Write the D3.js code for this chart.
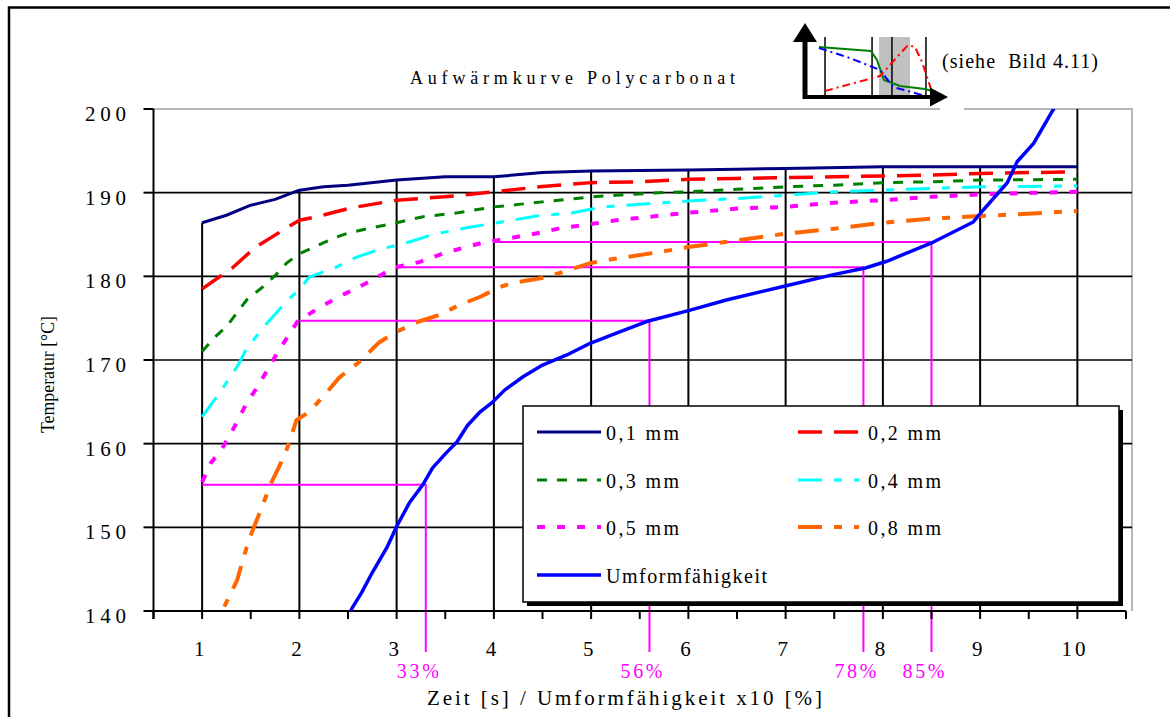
<!DOCTYPE html>
<html><head><meta charset="utf-8">
<script src="https://cdn.jsdelivr.net/npm/d3@7"></script>
<style>
body{margin:0;background:#fff}
svg{display:block}
text{font-family:"Liberation Serif","Times New Roman",serif;fill:#000}
</style>
</head><body>
<svg id="c" width="1170" height="717"></svg>
<script>
// ---------------- data ----------------
const chartTitle = "Aufwärmkurve Polycarbonat";
const xTitle = "Zeit [s] / Umformfähigkeit x10 [%]";
const yTitle = "Temperatur [°C]";
const insetNote = "(siehe  Bild 4.11)";
const xTickLabels = [1, 2, 3, 4, 5, 6, 7, 8, 9, 10];
const yTickValues = [140, 150, 160, 170, 180, 190, 200];
const seriesNames = ["0,1 mm", "0,2 mm", "0,3 mm", "0,4 mm", "0,5 mm", "0,8 mm", "Umformfähigkeit"];

const x01 = [1, 1.25, 1.5, 1.75, 2, 2.25, 2.5, 3, 3.5, 4, 4.5, 5, 6, 6.5, 7, 8, 9, 10];
const t01 = [186.4, 187.3, 188.5, 189.2, 190.3, 190.7, 190.9, 191.5, 191.9, 191.9, 192.4, 192.6, 192.7, 192.8, 192.9, 193.1, 193.1, 193.1];

const x02 = [1, 1.31, 1.54, 1.87, 2, 2.17, 2.54, 3, 3.49, 4, 4.47, 5, 5.5, 6, 6.5, 7, 7.5, 8, 8.5, 9, 10];
const t02 = [178.5, 181, 183.4, 185.8, 186.7, 187.1, 188.2, 189.1, 189.5, 190.1, 190.7, 191.2, 191.3, 191.6, 191.7, 191.8, 191.9, 192, 192.1, 192.3, 192.5];

const x03 = [1, 1.12, 1.25, 1.46, 1.62, 1.76, 1.87, 2, 2.17, 2.36, 2.51, 2.74, 3, 3.26, 3.63, 4, 4.26, 4.5, 4.75, 5, 5.7, 6, 6.5, 7, 7.5, 8, 8.5, 9, 10];
const t03 = [171, 172.6, 174, 177.2, 178.7, 180.2, 181.6, 182.7, 183.6, 184.6, 185.2, 185.8, 186.4, 187.1, 187.6, 188.3, 188.6, 188.9, 189.2, 189.5, 190, 190.1, 190.4, 190.7, 190.9, 191.2, 191.3, 191.5, 191.6];

const x04 = [1, 1.2, 1.38, 1.45, 1.62, 1.76, 1.9, 2, 2.1, 2.38, 2.59, 2.82, 3.13, 3.37, 3.72, 4.13, 4.44, 4.81, 5.12, 5.74, 6, 6.5, 7, 7.5, 8, 8.5, 9, 10];
const t04 = [163.2, 166.4, 169.6, 171.2, 173.8, 175.6, 177.4, 178.4, 179.9, 181.1, 182.3, 183.2, 184.1, 185, 185.8, 186.6, 187.2, 187.6, 188.3, 188.8, 189, 189.3, 189.7, 190.1, 190.3, 190.5, 190.7, 190.8];

const x05 = [1, 1.09, 1.2, 1.3, 1.38, 1.46, 1.57, 1.67, 1.76, 1.87, 1.98, 2.17, 2.38, 2.59, 2.79, 2.96, 3.23, 3.47, 3.68, 3.88, 4.23, 4.47, 4.7, 4.91, 5.26, 5.5, 6, 6.5, 7, 7.5, 8, 8.5, 9, 10];
const t05 = [155.4, 157.7, 159.3, 161.3, 163.1, 164.9, 166.8, 168.8, 170.6, 172.6, 174.6, 176, 177.4, 178.6, 179.8, 181, 181.7, 182.7, 183.4, 184, 184.7, 185.2, 185.8, 186.1, 186.7, 187, 187.6, 188.1, 188.3, 188.8, 189.1, 189.5, 189.8, 190.1];

const x08 = [1.1, 1.21, 1.36, 1.48, 1.59, 1.71, 1.79, 1.87, 1.97, 2.1, 2.28, 2.41, 2.62, 2.82, 3, 3.23, 3.44, 3.65, 3.85, 4.06, 4.19, 4.54, 5, 5.19, 5.7, 6, 6.5, 7, 7.5, 8, 8.5, 9, 10];
const t08 = [136.5, 140.1, 143.7, 148.5, 151.7, 155.3, 157.2, 159.3, 162.8, 163.8, 166.1, 167.9, 169.8, 172.1, 173.4, 174.6, 175.4, 176.6, 177.5, 178.7, 179.2, 179.9, 181.6, 182, 182.9, 183.5, 184.3, 185.1, 185.7, 186.4, 186.9, 187.2, 187.8];

const xUm = [2.4, 2.545, 2.64, 2.75, 2.905, 3, 3.13, 3.27, 3.37, 3.51, 3.62, 3.73, 3.85, 3.99, 4.11, 4.3, 4.5, 4.75, 4.99, 5.26, 5.57, 6, 6.4, 7.05, 7.49, 7.82, 8.04, 8.52, 8.93, 9.03, 9.28, 9.38, 9.55, 9.75, 10];
const tUm = [137, 140.4, 142.2, 144.6, 147.7, 150.1, 152.9, 155.1, 157.1, 158.9, 160.2, 162.2, 163.7, 165, 166.4, 168, 169.4, 170.6, 172, 173.2, 174.6, 175.9, 177.2, 179, 180.2, 181, 181.8, 184.1, 186.5, 187.9, 191.2, 193.7, 195.9, 199.9, 204];

// reference (magenta) construction lines
const refStartX = [1, 2, 3, 4];
const refY = [155.1, 174.7, 181.1, 184.1];
const refEndX = [3.3, 5.6, 7.8, 8.5];
const refLabels = ["33%", "56%", "78%", "85%"];

// inset sketch (normalised 0..100 units)
const insetGridX = [14.3, 47.9, 62.1, 86.4];
const insetBand = [52.9, 75];
const insetGreenX = [10, 47.1, 51.4, 56.4, 67.9, 85.7, 90.7];
const insetGreenY = [71.4, 65.7, 52.9, 24.3, 15.7, 11.4, 8.6];
const insetBlueX = [10, 32, 53.6, 62.9, 83.6];
const insetBlueY = [70, 55.7, 38.6, 14.3, 2.9];
const insetRedX = [14.3, 53.6, 73.6, 78.6, 83.6, 87.9, 90.7];
const insetRedY = [8.6, 30, 74.3, 71.4, 50, 24.3, 7.1];

// ---------------- build ----------------
const seriesX = [x01, x02, x03, x04, x05, x08, xUm];
const seriesT = [t01, t02, t03, t04, t05, t08, tUm];
const styles = [
  {color: "#000080", width: 3, dash: null},
  {color: "#ff0000", width: 3.5, dash: "24,12"},
  {color: "#008000", width: 3, dash: "10,10"},
  {color: "#00ffff", width: 3, dash: "24,12,8,12"},
  {color: "#ff00ff", width: 4, dash: "8,12"},
  {color: "#ff6600", width: 4, dash: "24,12,8,12"},
  {color: "#0000ff", width: 3.5, dash: null}
];
const series = seriesNames.map((n, i) => ({
  name: n, style: styles[i],
  pts: seriesX[i].map((x, j) => ({x, t: seriesT[i][j]}))
}));

const svg = d3.select("#c");
const L = 153.5, R = 1132, T = 109, B = 611;
const x = d3.scaleLinear().domain([0.5, 10.5]).range([L, 1126]);
const y = d3.scaleLinear().domain([140, 200]).range([B, T]);

// outer frame
svg.append("path").attr("d", `M9,717 V7.5 H1170`).attr("fill", "none")
  .attr("stroke", "#000").attr("stroke-width", 2.5);

// plot border (top & right, grey)
svg.append("path").attr("d", `M${L},${y(200)} H${R} V${B}`).attr("fill", "none")
  .attr("stroke", "#a0a0a0").attr("stroke-width", 1.5);

// horizontal gridlines
svg.append("g").selectAll("line").data(yTickValues.filter(v => v > 140 && v < 200)).join("line")
  .attr("x1", L).attr("x2", R).attr("y1", d => y(d)).attr("y2", d => y(d))
  .attr("stroke", "#000").attr("stroke-width", 1.6);

// drop lines from highest series at each integer x
function interp(pts, xv) {
  if (xv < pts[0].x || xv > pts[pts.length - 1].x) return null;
  for (let i = 0; i < pts.length - 1; i++) {
    const a = pts[i], b = pts[i + 1];
    if (xv >= a.x && xv <= b.x) return a.t + (b.t - a.t) * (xv - a.x) / (b.x - a.x);
  }
  return pts[pts.length - 1].t;
}
const drops = xTickLabels.map(v => {
  const vals = series.map(s => interp(s.pts, v)).filter(d => d !== null);
  return {x: v, top: Math.min(200, d3.max(vals))};
});
svg.append("g").selectAll("line").data(drops).join("line")
  .attr("x1", d => x(d.x)).attr("x2", d => x(d.x))
  .attr("y1", d => y(d.top)).attr("y2", B)
  .attr("stroke", "#000").attr("stroke-width", 2);

// magenta construction lines
const refG = svg.append("g");
refStartX.forEach((sx, i) => {
  refG.append("path")
    .attr("d", `M${x(sx)},${y(refY[i])} H${x(refEndX[i])} V${B + 41}`)
    .attr("fill", "none").attr("stroke", "#ff00ff").attr("stroke-width", 2);
  refG.append("text").attr("x", x(refEndX[i]) - 29).attr("y", B + 67)
    .attr("textLength", 42).attr("lengthAdjust", "spacing")
    .style("font-size", "20px").style("fill", "#ff00ff").text(refLabels[i]);
});

// axes
svg.append("line").attr("x1", L).attr("x2", 1126).attr("y1", B).attr("y2", B)
  .attr("stroke", "#000").attr("stroke-width", 2);
svg.append("line").attr("x1", L).attr("x2", L).attr("y1", T).attr("y2", B + 8)
  .attr("stroke", "#000").attr("stroke-width", 2);
svg.append("g").selectAll("line").data(d3.range(0.5, 10.51, 0.5)).join("line")
  .attr("x1", d => x(d)).attr("x2", d => x(d)).attr("y1", B).attr("y2", B + 8)
  .attr("stroke", "#000").attr("stroke-width", 2);
svg.append("g").selectAll("line").data(yTickValues).join("line")
  .attr("x1", L - 10).attr("x2", L).attr("y1", d => y(d)).attr("y2", d => y(d))
  .attr("stroke", "#000").attr("stroke-width", 2);

// tick labels
svg.append("g").selectAll("text").data(yTickValues).join("text")
  .attr("x", 85).attr("y", d => y(d) + 12)
  .attr("textLength", 41).attr("lengthAdjust", "spacing")
  .style("font-size", "21px").text(d => d);
svg.append("g").selectAll("text").data(xTickLabels).join("text")
  .attr("x", d => x(d) - 3).attr("y", B + 45)
  .attr("text-anchor", "middle")
  .each(function(d){ if (String(d).length > 1) d3.select(this).attr("textLength", 24).attr("lengthAdjust","spacing").attr("x", x(d) - 16).attr("text-anchor","start"); })
  .style("font-size", "21px").text(d => d);

// axis titles
svg.append("text").attr("x", 427).attr("y", 705)
  .attr("textLength", 395).attr("lengthAdjust", "spacing")
  .style("font-size", "21px").text(xTitle);
svg.append("text").attr("transform", "translate(54,433) rotate(-90)")
  .attr("textLength", 117).attr("lengthAdjust", "spacingAndGlyphs")
  .style("font-size", "18px").text(yTitle);

// chart title
svg.append("text").attr("x", 410).attr("y", 84)
  .attr("textLength", 325).attr("lengthAdjust", "spacing")
  .style("font-size", "18px").text(chartTitle);

// series
svg.append("clipPath").attr("id", "clip").append("rect")
  .attr("x", L).attr("y", T).attr("width", R - L).attr("height", B - T);
const line = d3.line().x(d => x(d.x)).y(d => y(d.t));
svg.append("g").attr("clip-path", "url(#clip)").selectAll("path").data(series).join("path")
  .attr("d", d => line(d.pts)).attr("fill", "none")
  .attr("stroke", d => d.style.color).attr("stroke-width", d => d.style.width)
  .attr("stroke-dasharray", d => d.style.dash)
  .attr("stroke-linejoin", "round");

// legend
const lg = svg.append("g");
lg.append("rect").attr("x", 527).attr("y", 410).attr("width", 596).attr("height", 196).attr("fill", "#000");
lg.append("rect").attr("x", 523).attr("y", 406).attr("width", 596).attr("height", 196)
  .attr("fill", "#fff").attr("stroke", "#000").attr("stroke-width", 1.5);
const legPos = [[0,0],[1,0],[0,1],[1,1],[0,2],[1,2],[0,3]];
const colLine = [[537, 601], [798, 859]], colText = [606, 868];
const rowY = [432, 480, 527, 575];
series.forEach((s, i) => {
  const [c, r] = legPos[i];
  lg.append("line").attr("x1", colLine[c][0]).attr("x2", colLine[c][1])
    .attr("y1", rowY[r]).attr("y2", rowY[r])
    .attr("stroke", s.style.color).attr("stroke-width", s.style.width)
    .attr("stroke-dasharray", s.style.dash);
  lg.append("text").attr("x", colText[c]).attr("y", rowY[r] + 8)
    .attr("textLength", s.name.length > 8 ? 161 : 73).attr("lengthAdjust", "spacing")
    .style("font-size", "20px").text(s.name);
});

// inset sketch
const ix = d3.scaleLinear().domain([0, 100]).range([805, 945]);
const iy = d3.scaleLinear().domain([0, 100]).range([97, 27]);
const ig = svg.append("g");
ig.append("rect").attr("x", 940).attr("y", 104).attr("width", 24).attr("height", 8).attr("fill", "#fff");
ig.append("rect").attr("x", ix(insetBand[0])).attr("y", iy(85.7))
  .attr("width", ix(insetBand[1]) - ix(insetBand[0])).attr("height", iy(0) - iy(85.7)).attr("fill", "#c0c0c0");
ig.selectAll("line.g").data(insetGridX).join("line")
  .attr("x1", d => ix(d)).attr("x2", d => ix(d)).attr("y1", iy(85.7)).attr("y2", iy(0))
  .attr("stroke", "#000").attr("stroke-width", 1.5);
const il = d3.line().x(d => ix(d[0])).y(d => iy(d[1]));
ig.append("path").attr("d", il(insetGreenX.map((v, i) => [v, insetGreenY[i]])))
  .attr("fill", "none").attr("stroke", "#008000").attr("stroke-width", 2);
ig.append("path").attr("d", il(insetBlueX.map((v, i) => [v, insetBlueY[i]])))
  .attr("fill", "none").attr("stroke", "#0000ff").attr("stroke-width", 2).attr("stroke-dasharray", "8,4,2,4");
ig.append("path").attr("d", il(insetRedX.map((v, i) => [v, insetRedY[i]])))
  .attr("fill", "none").attr("stroke", "#ff0000").attr("stroke-width", 2).attr("stroke-dasharray", "8,4,2,4");
ig.append("line").attr("x1", ix(0)).attr("x2", ix(0)).attr("y1", iy(0) + 2).attr("y2", 40)
  .attr("stroke", "#000").attr("stroke-width", 5);
ig.append("line").attr("x1", ix(0)).attr("x2", 932).attr("y1", iy(0)).attr("y2", iy(0))
  .attr("stroke", "#000").attr("stroke-width", 4);
ig.append("path").attr("d", `M${ix(0)},23 L${ix(0) + 12},42 L${ix(0) - 12},42 Z`).attr("fill", "#000");
ig.append("path").attr("d", `M948,${iy(0)} L930,${iy(0) - 9.5} L930,${iy(0) + 9.5} Z`).attr("fill", "#000");
ig.append("text").attr("x", 942).attr("y", 68).attr("xml:space", "preserve")
  .attr("textLength", 156).attr("lengthAdjust", "spacing")
  .style("font-size", "20px").style("white-space", "pre").text(insetNote);
</script>
</body></html>
